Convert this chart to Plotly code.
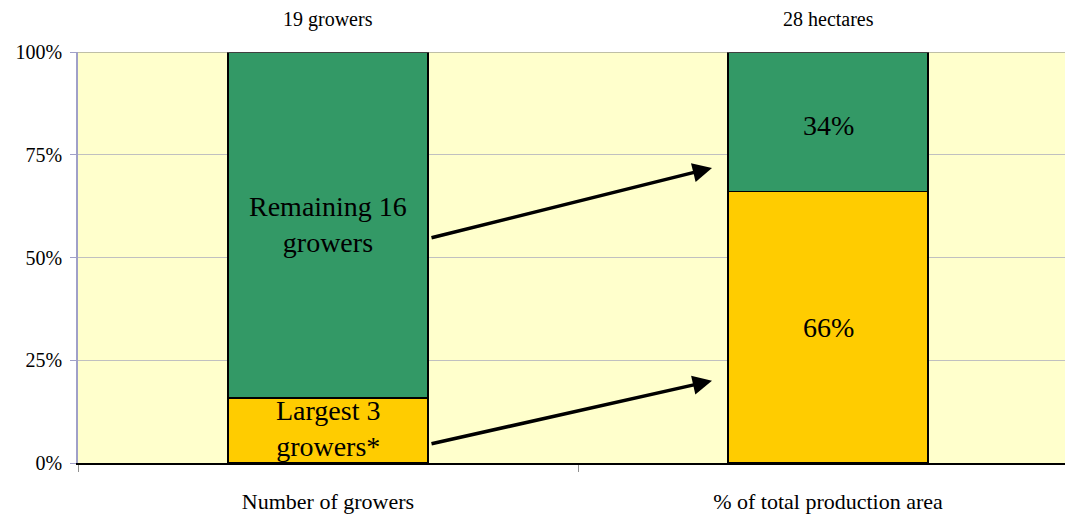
import plotly.graph_objects as go

categories = ["Number of growers", "% of total production area"]
largest = [15.8, 66]      # % share, largest 3 growers
remaining = [84.2, 34]    # % share, remaining 16 growers
top_labels = ["19 growers", "28 hectares"]
largest_text = ["Largest 3<br>growers*", "66%"]
remaining_text = ["Remaining 16<br>growers", "34%"]
y_ticks = [0, 25, 50, 75, 100]
y_tick_text = ["0%", "25%", "50%", "75%", "100%"]

FONT = "Liberation Serif"
GREEN = "#339966"
YELLOW = "#FFCC00"

fig = go.Figure()
fig.add_trace(go.Bar(x=categories, y=largest, marker=dict(color=YELLOW, line=dict(color="black", width=1.5)),
                     width=0.4, hoverinfo="skip"))
fig.add_trace(go.Bar(x=categories, y=remaining, marker=dict(color=GREEN, line=dict(color="black", width=1.5)),
                     width=0.4, hoverinfo="skip"))

ann = []
for i, c in enumerate(categories):
    ann.append(dict(x=i, y=largest[i] / 2 if i == 1 else largest[i] / 2 + 0.4, xref="x", yref="y",
                    text=largest_text[i], showarrow=False, font=dict(family=FONT, size=28, color="black")))
    ann.append(dict(x=i, y=(largest[i] + 100) / 2 - 1 if i == 1 else 58, xref="x", yref="y",
                    text=remaining_text[i], showarrow=False, font=dict(family=FONT, size=28, color="black")))
    ann.append(dict(x=i, y=1, xref="x", yref="paper", yanchor="middle", yshift=33,
                    text=top_labels[i], showarrow=False, font=dict(family=FONT, size=20, color="black")))

ann.append(dict(x=0.768, y=71.8, ax=0.204, ay=54.7, xref="x", yref="y", axref="x", ayref="y",
                text="", showarrow=True, arrowhead=2, arrowsize=1.1, arrowwidth=3.5, arrowcolor="black"))
ann.append(dict(x=0.768, y=20.0, ax=0.204, ay=4.6, xref="x", yref="y", axref="x", ayref="y",
                text="", showarrow=True, arrowhead=2, arrowsize=1.1, arrowwidth=3.5, arrowcolor="black"))

fig.update_layout(
    barmode="stack",
    width=1070, height=520,
    margin=dict(l=70, r=0, t=44, b=65, autoexpand=False),
    paper_bgcolor="white",
    plot_bgcolor="#FFFFCC",
    showlegend=False,
    annotations=ann,
    shapes=[dict(type="line", xref="paper", yref="y", x0=0, x1=1, y0=100, y1=100,
                 line=dict(color="#808080", width=1))],
    font=dict(family=FONT, color="black"),
)
fig.update_xaxes(
    type="category", range=[-0.5, 1.5],
    tickson="boundaries", ticks="outside", ticklen=7, tickcolor="#909090",
    showline=True, linecolor="black", linewidth=1.5,
    showgrid=False, tickfont=dict(family=FONT, size=22, color="black"),
    ticklabelstandoff=18, automargin=False,
)
fig.update_yaxes(
    range=[0, 100], tickmode="array", tickvals=y_ticks, ticktext=y_tick_text,
    ticks="outside", ticklen=6, tickcolor="#A0A0C8",
    showline=True, linecolor="#A0A0C8", linewidth=1.5,
    showgrid=True, gridcolor="#C0C0C0", gridwidth=1,
    tickfont=dict(family=FONT, size=20, color="black"),
    ticklabelstandoff=4,
    zeroline=False, automargin=False,
)

fig.write_html("out.html")
